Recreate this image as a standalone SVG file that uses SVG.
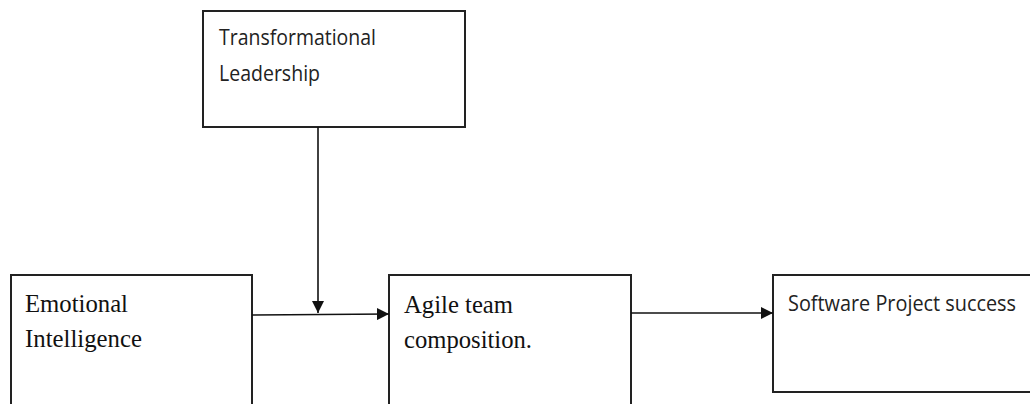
<svg xmlns="http://www.w3.org/2000/svg" width="1030" height="404" viewBox="0 0 1030 404">
<style>
.box{fill:#fff;stroke:#222;stroke-width:2}
.sans{font-family:"Open Sans","Noto Sans",sans-serif;font-size:22px;fill:#222}
.serif{font-family:"Liberation Serif","Times New Roman",serif;font-size:26px;fill:#111}
.conn{stroke:#111;stroke-width:1.6;fill:none}
</style>
<defs>
<marker id="arr" viewBox="0 0 12 12" refX="12" refY="6" markerWidth="12" markerHeight="12" markerUnits="userSpaceOnUse" orient="auto">
<path d="M0,0 L12,6 L0,12 z" fill="#111"/>
</marker>
</defs>
<rect width="1030" height="404" fill="#fff"/>
<g id="transformational">
<rect class="box" x="203" y="11" width="262" height="116"/>
<text class="sans" x="219" y="45" textLength="157" lengthAdjust="spacingAndGlyphs">Transformational</text>
<text class="sans" x="219" y="81" textLength="101" lengthAdjust="spacingAndGlyphs">Leadership</text>
</g>
<g id="emotional">
<rect class="box" x="11" y="275" width="241" height="140"/>
<text class="serif" x="25" y="312" textLength="103" lengthAdjust="spacingAndGlyphs">Emotional</text>
<text class="serif" x="25" y="347" textLength="117" lengthAdjust="spacingAndGlyphs">Intelligence</text>
</g>
<g id="agile">
<rect class="box" x="389" y="275" width="242" height="140"/>
<text class="serif" x="404" y="313" textLength="109" lengthAdjust="spacingAndGlyphs">Agile team</text>
<text class="serif" x="404" y="348" textLength="128" lengthAdjust="spacingAndGlyphs">composition.</text>
</g>
<g id="software">
<rect class="box" x="773" y="275" width="270" height="117"/>
<text class="sans" x="788" y="311" textLength="228" lengthAdjust="spacingAndGlyphs">Software Project success</text>
</g>
<g id="connectors">
<line class="conn" x1="318" y1="127" x2="318" y2="313" marker-end="url(#arr)"/>
<line class="conn" x1="252" y1="315" x2="389" y2="314" marker-end="url(#arr)"/>
<line class="conn" x1="631" y1="313" x2="773" y2="313" marker-end="url(#arr)"/>
</g>
</svg>
